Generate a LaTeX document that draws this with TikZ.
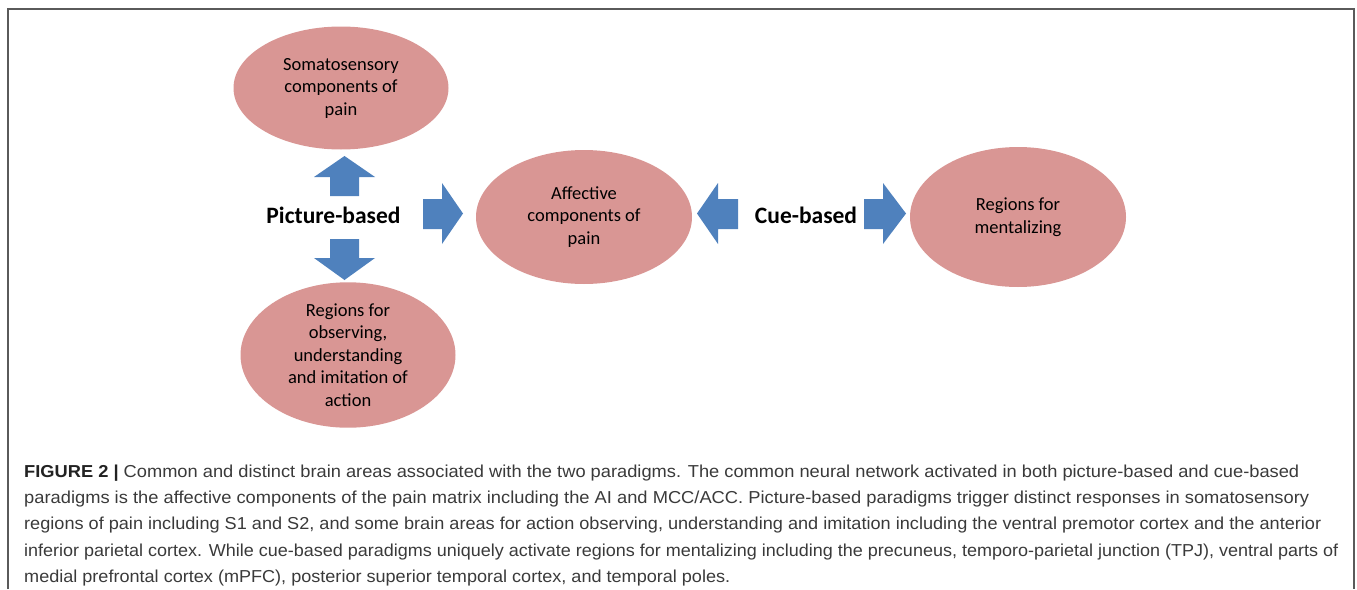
\documentclass[tikz,border=0pt]{standalone}
\usepackage{fontspec}
\usepackage{graphicx}
\setmainfont{Carlito}
\newfontfamily\capfont{Liberation Sans}
\usetikzlibrary{shapes.geometric}
\definecolor{ellfill}{HTML}{D99694}
\definecolor{arrfill}{HTML}{4F81BD}
\definecolor{framecol}{HTML}{5A5A5A}
\definecolor{captext}{HTML}{3A3A3A}
\definecolor{capbold}{HTML}{222222}
\tikzset{
  region/.style={ellipse, fill=ellfill, draw=none, inner sep=0pt, align=center,
    font=\fontsize{18.5}{22.5}\selectfont, text=black},
  paradigm/.style={font=\fontsize{23.5}{28}\selectfont\bfseries, text=black, inner sep=0pt},
  blockarrow/.style={fill=arrfill, draw=none},
  capline/.style={anchor=base west, inner sep=0pt, text=captext, font=\capfont\fontsize{17.3}{20}\selectfont},
  framestyle/.style={draw=framecol, line width=1.5pt}
}
\begin{document}
\begin{tikzpicture}[x=1pt, y=-1pt]
\useasboundingbox (0,0) rectangle (1357,589);
% frame (open at bottom)
\draw[framestyle] (8,589) -- (8,9) -- (1354,9) -- (1354,589);

% regions
\node[region, minimum width=215pt, minimum height=123pt] (soma) at (341,88)
  {Somatosensory\\components of\\pain};
\node[region, minimum width=216pt, minimum height=134pt] (aff) at (584,217)
  {Affective\\components of\\pain};
\node[region, minimum width=216pt, minimum height=140pt] (ment) at (1018,217)
  {Regions for\\mentalizing};
\node[region, minimum width=215pt, minimum height=139pt] (obs) at (348,355)
  {Regions for\\observing,\\understanding\\and imitation of\\action};

% paradigm labels
\node[paradigm, anchor=base] (pic) at (333.5,223) {Picture-based};
\node[paradigm, anchor=base] (cue) at (806,223) {Cue-based};

% block arrows
\fill[blockarrow] (330,196) -- (330,177) -- (314,177) -- (344.5,156) -- (375,177) -- (359,177) -- (359,196) -- cycle;
\fill[blockarrow] (330,239) -- (359,239) -- (359,258) -- (375,258) -- (344.5,280) -- (314,258) -- (330,258) -- cycle;
\fill[blockarrow] (423,199) -- (442,199) -- (442,183) -- (463,213.5) -- (442,244) -- (442,229) -- (423,229) -- cycle;
\fill[blockarrow] (738,199) -- (718,199) -- (718,183) -- (697,213.5) -- (718,244) -- (718,229) -- (738,229) -- cycle;
\fill[blockarrow] (864,199) -- (883,199) -- (883,183) -- (906,213.5) -- (883,244) -- (883,229) -- (864,229) -- cycle;

% caption
\node[capline] (c1) at (24,477) {\resizebox{1275pt}{\height}{\textcolor{capbold}{\textbf{FIGURE 2 |}} Common and distinct brain areas associated with the two paradigms. The common neural network activated in both picture-based and cue-based}};
\node[capline] (c2) at (24,503) {\resizebox{1285pt}{\height}{paradigms is the affective components of the pain matrix including the AI and MCC/ACC. Picture-based paradigms trigger distinct responses in somatosensory}};
\node[capline] (c3) at (24,529.5) {\resizebox{1297pt}{\height}{regions of pain including S1 and S2, and some brain areas for action observing, understanding and imitation including the ventral premotor cortex and the anterior}};
\node[capline] (c4) at (24,556) {\resizebox{1314pt}{\height}{inferior parietal cortex. While cue-based paradigms uniquely activate regions for mentalizing including the precuneus, temporo-parietal junction (TPJ), ventral parts of}};
\node[capline] (c5) at (24,582) {\resizebox{706pt}{\height}{medial prefrontal cortex (mPFC), posterior superior temporal cortex, and temporal poles.}};
\end{tikzpicture}
\end{document}
